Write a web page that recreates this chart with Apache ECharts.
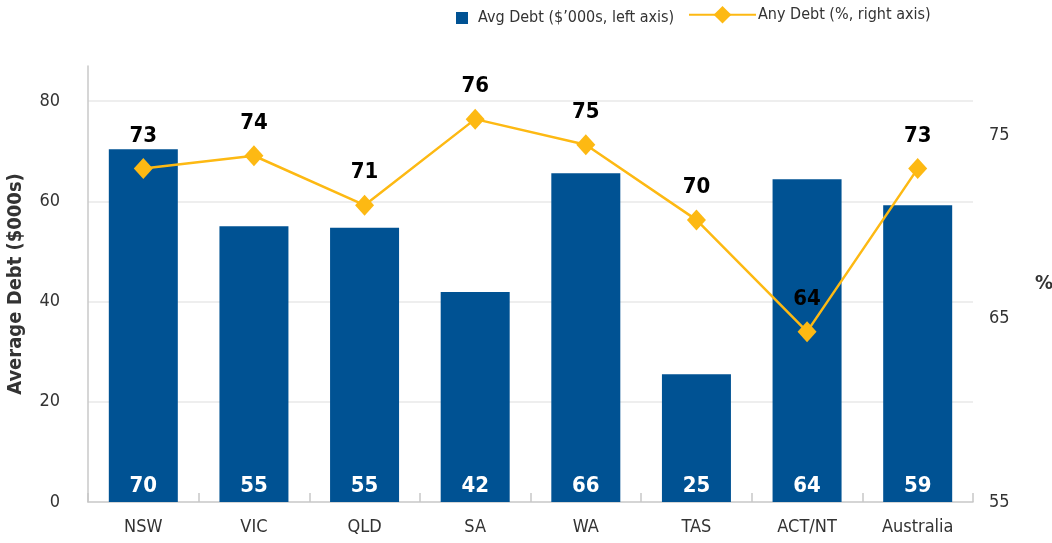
<!DOCTYPE html>
<html>
<head>
<meta charset="utf-8">
<script src="https://cdn.jsdelivr.net/npm/echarts@6/dist/echarts.min.js"></script>
<style>
html,body{margin:0;padding:0;background:#fff;}
#main{width:1052px;height:543px;}
</style>
</head>
<body>
<div id="main"></div>
<script>
const categories = ['NSW', 'VIC', 'QLD', 'SA', 'WA', 'TAS', 'ACT/NT', 'Australia'];
const avgDebt = [70.4, 55, 54.7, 41.9, 65.6, 25.5, 64.4, 59.2];
const anyDebt = [73.2, 73.9, 71.2, 75.9, 74.5, 70.4, 64.3, 73.2];
const avgDebtLabels = ['70', '55', '55', '42', '66', '25', '64', '59'];
const anyDebtLabels = ['73', '74', '71', '76', '75', '70', '64', '73'];
const leftTicks = [0, 20, 40, 60, 80];
const rightTicks = [55, 65, 75];

const FONT = '"DejaVu Sans Condensed", "Liberation Sans Narrow", sans-serif';
const BLUE = '#005293';
const GOLD = '#FDB913';

const chart = echarts.init(document.getElementById('main'));
chart.setOption({
  animation: false,
  textStyle: { fontFamily: FONT },
  legend: [
    {
      data: ['Avg Debt ($\u2019000s, left axis)'],
      left: 456, top: 10, padding: 0,
      itemWidth: 12, itemHeight: 12,
      icon: 'rect',
      textStyle: { fontFamily: FONT, fontSize: 16, color: '#333', padding: [0,0,0,5] }
    },
    {
      data: ['Any Debt (%, right axis)'],
      left: 688, top: 6, padding: 0,
      itemWidth: 67, itemHeight: 22,
      itemStyle: { borderWidth: 0 },
      textStyle: { fontFamily: FONT, fontSize: 16, color: '#333', padding: [0,0,0,-3] }
    }
  ],
  grid: { left: 88, right: 79, top: 66, bottom: 41, outerBoundsMode: 'none', containLabel: false },
  xAxis: {
    type: 'category',
    data: categories,
    axisLine: { lineStyle: { color: '#c8c8c8', width: 1.5 } },
    axisTick: { show: true, inside: true, length: 9, alignWithLabel: false, lineStyle: { color: '#c8c8c8', width: 1.5 } },
    axisLabel: { fontFamily: FONT, fontSize: 18, color: '#333', margin: 16 }
  },
  yAxis: [
    {
      type: 'value',
      min: 0, max: 87, interval: 20,
      name: 'Average Debt ($000s)',
      nameLocation: 'middle',
      nameGap: 62,
      nameTextStyle: { fontFamily: FONT, fontSize: 20, fontWeight: 'bold', color: '#333' },
      axisLine: { show: true, lineStyle: { color: '#c8c8c8', width: 1.5 } },
      axisTick: { show: false },
      axisLabel: {
        fontFamily: FONT, fontSize: 18, color: '#333', margin: 28,
        showMaxLabel: false,
        formatter: v => leftTicks.includes(v) ? String(v) : ''
      },
      splitLine: { show: true, lineStyle: { color: ['transparent', '#e8e8e8', '#e8e8e8', '#e8e8e8', '#e8e8e8', 'transparent'], width: 1.5 } }
    },
    {
      type: 'value',
      min: 55, max: 78.8, interval: 10,
      name: '%',
      nameLocation: 'middle',
      nameGap: 62,
      nameRotate: 0,
      nameTextStyle: { fontFamily: FONT, fontSize: 20, fontWeight: 'bold', color: '#333' },
      axisLine: { show: false },
      axisTick: { show: false },
      axisLabel: {
        fontFamily: FONT, fontSize: 18, color: '#333', margin: 16,
        showMaxLabel: false,
        formatter: v => rightTicks.includes(v) ? String(v) : ''
      },
      splitLine: { show: false }
    }
  ],
  series: [
    {
      name: 'Avg Debt ($\u2019000s, left axis)',
      type: 'bar',
      yAxisIndex: 0,
      data: avgDebt,
      barWidth: 69,
      itemStyle: { color: BLUE },
      label: {
        show: true, position: 'insideBottom', distance: 5,
        formatter: p => avgDebtLabels[p.dataIndex],
        fontFamily: FONT, fontSize: 22, fontWeight: 'bold', color: '#fff'
      }
    },
    {
      name: 'Any Debt (%, right axis)',
      type: 'line',
      yAxisIndex: 1,
      data: anyDebt,
      symbol: 'diamond',
      symbolSize: [19, 21],
      lineStyle: { color: GOLD, width: 2.5 },
      itemStyle: { color: GOLD },
      label: {
        show: true, position: 'top', distance: 11,
        formatter: p => anyDebtLabels[p.dataIndex],
        fontFamily: FONT, fontSize: 22, fontWeight: 'bold', color: '#000'
      },
      z: 5
    }
  ]
});
</script>
</body>
</html>
